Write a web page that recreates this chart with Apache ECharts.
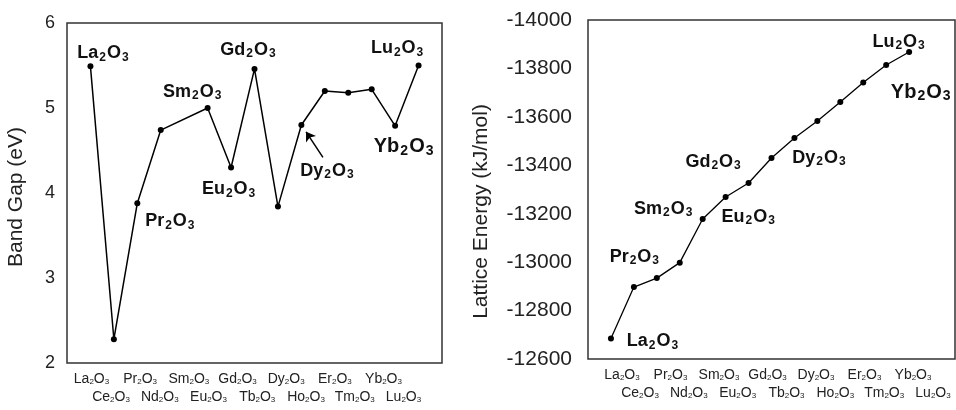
<!DOCTYPE html>
<html>
<head>
<meta charset="utf-8">
<script src="https://cdn.jsdelivr.net/npm/echarts@6/dist/echarts.min.js"></script>
<style>
  html, body { margin: 0; padding: 0; background: #fff; }
  #chart { width: 956px; height: 410px; }
</style>
</head>
<body>
<div id="chart"></div>
<script>
// lanthanide sesquioxides, La -> Lu (Pm left out)
const metals = ['La', 'Ce', 'Pr', 'Nd', 'Sm', 'Eu', 'Gd', 'Tb', 'Dy', 'Ho', 'Er', 'Tm', 'Yb', 'Lu'];
const atomicNumber = [57, 58, 59, 60, 62, 63, 64, 65, 66, 67, 68, 69, 70, 71];

// left panel: band gap (eV)
const bandGap = [5.49, 2.28, 3.88, 4.74, 5.00, 4.30, 5.46, 3.84, 4.80, 5.20, 5.18, 5.22, 4.79, 5.50];
// right panel: lattice energy (kJ/mol)
const latticeEnergy = [-12685, -12897, -12934, -12998, -13178, -13269, -13327, -13430,
  -13513, -13583, -13661, -13742, -13814, -13868];

// tick labels along the bottom, printed in two staggered rows
const rowTop = metals.filter((m, i) => i % 2 === 0);
const rowBottom = metals.filter((m, i) => i % 2 === 1);

// where the bold callouts sit, relative to their point (px)
const notesLeft = {
  La: [13, -13], Pr: [33, 18], Sm: [-15, -16], Eu: [-2, 22],
  Gd: [-6, -19], Dy: [26, 46], Yb: [9, 21], Lu: [-21, -17]
};
const notesRight = {
  La: [42, 3], Pr: [-22, -21], Sm: [-39, -10], Eu: [23, 20],
  Gd: [-35, -21], Dy: [25, 20], Yb: [35, 27], Lu: [-10, -10]
};

const FONT = '"Liberation Sans", Arial, sans-serif';
const INK = '#111';

function chem(m, big) {
  const a = big ? 'B' : 'm';
  const b = big ? 'Bs' : 's';
  return '{' + a + '|' + m + '}{' + b + '|2}{' + a + '|O}{' + b + '|3}';
}

const noteRich = {
  m: { fontSize: 18, fontWeight: 'bold', lineHeight: 22, color: INK, fontFamily: FONT },
  s: { fontSize: 12, fontWeight: 'bold', lineHeight: 22, padding: [8, 1, 0, 1], color: INK, fontFamily: FONT },
  B: { fontSize: 20, fontWeight: 'bold', lineHeight: 24, color: INK, fontFamily: FONT },
  Bs: { fontSize: 14, fontWeight: 'bold', lineHeight: 24, padding: [9, 1, 0, 1], color: INK, fontFamily: FONT }
};

const tickRich = {
  m: { fontSize: 14, lineHeight: 16, color: '#222', fontFamily: FONT },
  s: { fontSize: 8, lineHeight: 16, padding: [6, 0, 0, 0], color: '#222', fontFamily: FONT }
};

function points(xs, ys, notes) {
  return ys.map((v, i) => {
    const item = { value: [xs[i], v] };
    const off = notes[metals[i]];
    if (off) {
      item.label = {
        show: true,
        position: 'inside',
        offset: off,
        formatter: chem(metals[i], metals[i] === 'Yb')
      };
    }
    return item;
  });
}

function labelAxis(grid, names, margin) {
  return {
    type: 'category', gridIndex: grid, data: names, boundaryGap: false,
    axisLine: { show: false }, axisTick: { show: false }, splitLine: { show: false },
    axisLabel: {
      interval: 0, margin: margin,
      formatter: v => '{m|' + v + '}{s|2}{m|O}{s|3}',
      rich: tickRich
    }
  };
}

const rightX = latticeEnergy.map((v, i) => i);
const dyIdx = metals.indexOf('Dy');
const dyX = atomicNumber[dyIdx];
const dyV = bandGap[dyIdx];

const chart = echarts.init(document.getElementById('chart'));
chart.setOption({
  animation: false,
  textStyle: { fontFamily: FONT },
  grid: [
    { left: 67, top: 23, width: 375, height: 340, show: true, borderColor: '#333', borderWidth: 1.5 },
    { left: 588, top: 20, width: 367, height: 339, show: true, borderColor: '#333', borderWidth: 1.5 },
    { left: 91.5, top: 362, width: 292, height: 1 },
    { left: 111, top: 362, width: 292.5, height: 1 },
    { left: 622, top: 358, width: 291, height: 1 },
    { left: 640, top: 358, width: 293, height: 1 }
  ],
  xAxis: [
    { type: 'value', gridIndex: 0, min: 56, max: 72, show: false },
    { type: 'value', gridIndex: 1, min: -1, max: 15, show: false },
    labelAxis(2, rowTop, 8),
    labelAxis(3, rowBottom, 26),
    labelAxis(4, rowTop, 8),
    labelAxis(5, rowBottom, 26)
  ],
  yAxis: [
    {
      type: 'value', gridIndex: 0, min: 2, max: 6, interval: 1,
      axisLine: { show: false }, axisTick: { show: false }, splitLine: { show: false },
      axisLabel: { fontSize: 18, color: '#222', margin: 12 },
      name: 'Band Gap (eV)', nameLocation: 'middle', nameRotate: 90, nameGap: 40,
      nameTextStyle: { fontSize: 21, color: '#222', padding: [0, 8, 0, 0] }
    },
    {
      type: 'value', gridIndex: 1, min: -14000, max: -12600, interval: 200, inverse: true,
      axisLine: { show: false }, axisTick: { show: false }, splitLine: { show: false },
      axisLabel: { fontSize: 21, color: '#222', margin: 16, formatter: v => String(v) },
      name: 'Lattice Energy (kJ/mol)', nameLocation: 'middle', nameRotate: 90, nameGap: 96,
      nameTextStyle: { fontSize: 21, color: '#222', padding: [0, 44, 0, 0] }
    },
    { type: 'value', gridIndex: 2, show: false },
    { type: 'value', gridIndex: 3, show: false },
    { type: 'value', gridIndex: 4, show: false },
    { type: 'value', gridIndex: 5, show: false }
  ],
  series: [
    {
      name: 'Band Gap',
      type: 'line',
      xAxisIndex: 0, yAxisIndex: 0,
      data: points(atomicNumber, bandGap, notesLeft),
      symbol: 'circle', symbolSize: 6,
      lineStyle: { color: '#000', width: 1.5 },
      itemStyle: { color: '#000' },
      label: { show: false, rich: noteRich },
      markLine: {
        silent: true,
        symbol: ['none', 'arrow'],
        symbolSize: 9,
        lineStyle: { color: '#000', width: 1.5, type: 'solid' },
        label: { show: false },
        data: [[{ coord: [dyX + 0.92, dyV - 0.38] }, { coord: [dyX + 0.2, dyV - 0.08] }]]
      }
    },
    {
      name: 'Lattice Energy',
      type: 'line',
      xAxisIndex: 1, yAxisIndex: 1,
      data: points(rightX, latticeEnergy, notesRight),
      symbol: 'circle', symbolSize: 6,
      lineStyle: { color: '#000', width: 1.3 },
      itemStyle: { color: '#000' },
      label: { show: false, rich: noteRich }
    }
  ]
});
</script>
</body>
</html>
